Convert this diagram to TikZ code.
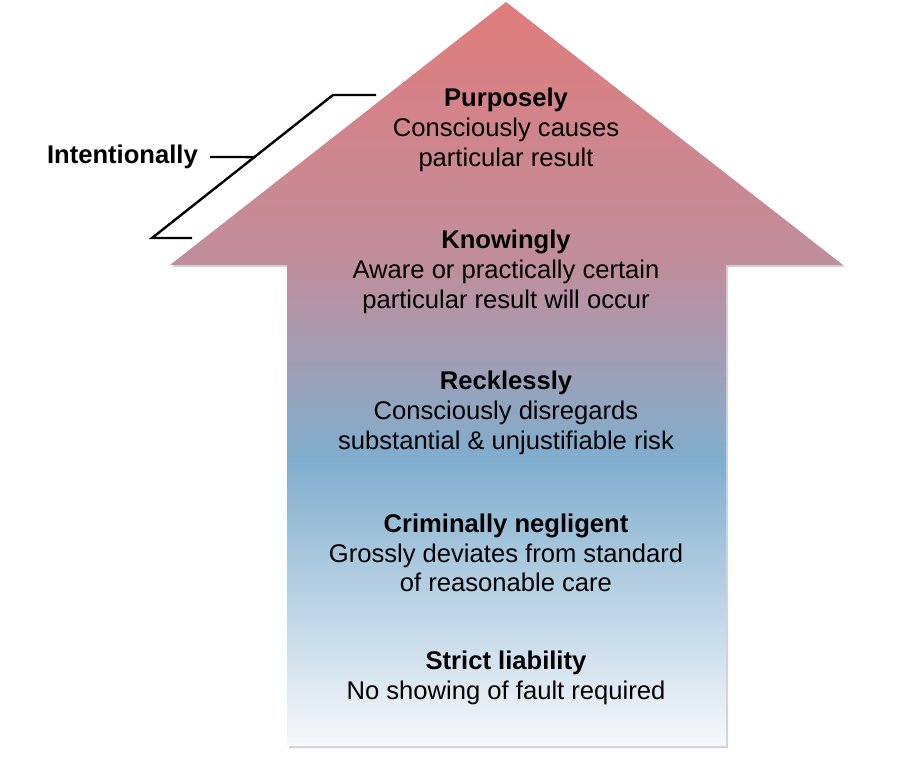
\documentclass[tikz,border=0pt]{standalone}
\usepackage{fontspec}
\setmainfont{Liberation Sans}
\usetikzlibrary{shadows}
\usetikzlibrary{calc}

\definecolor{fadered}{RGB}{224,124,124}
\definecolor{fademauve}{RGB}{192,142,156}
\definecolor{fadeblue}{RGB}{128,174,206}
\definecolor{fadewhite}{RGB}{247,249,252}
\pgfdeclareverticalshading{arrowfade}{100bp}{color(0bp)=(fadewhite); color(25bp)=(fadewhite); color(44.2bp)=(fadeblue); color(57.3bp)=(fademauve); color(75bp)=(fadered); color(100bp)=(fadered)}

\begin{document}
\begin{tikzpicture}[x=1pt,y=-1pt,
	every node/.style={inner sep=0pt,align=center,black,
		font=\fontsize{25.6}{29.8}\selectfont},
	level/.style={anchor=center}
]%levels from top to bottom
\useasboundingbox (0,0) rectangle (902,762);
\shade[shading=arrowfade, drop shadow={shadow xshift=2pt, shadow yshift=-2pt, opacity=0.35}]
(506,2) -- (843,265) -- (726,265) -- (726,746) -- (287,746) -- (287,265) -- (170,265) -- cycle;
\node (purposely) [level] at (506,130) {\textbf{Purposely}\\Consciously causes\\particular result};
\node (knowingly) [level] at (506,272) {\textbf{Knowingly}\\Aware or practically certain\\particular result will occur};
\node (recklessly) [level] at (506,413) {\textbf{Recklessly}\\Consciously disregards\\substantial \& unjustifiable risk};
\node (negligent) [level] at (506,553) {\textbf{Criminally negligent}\\Grossly deviates from standard\\of reasonable care};
\node (strict) [level] at (506,678) {\textbf{Strict liability}\\No showing of fault required};
\node (intent) [anchor=east] at (198,157) {\textbf{Intentionally}};
\coordinate (brtop) at (376,95);
\coordinate (brtopturn) at (333,95);
\coordinate (brbotturn) at (152,238);
\coordinate (brbot) at (192,238);
\coordinate (brmid) at ($(brtopturn)!0.434!(brbotturn)$);
\draw[line width=2.4pt] (brtop) -- (brtopturn) -- (brbotturn) -- (brbot);
\draw[line width=2.4pt] ([xshift=12pt]intent.east) -- (brmid);
\end{tikzpicture}
\end{document}
